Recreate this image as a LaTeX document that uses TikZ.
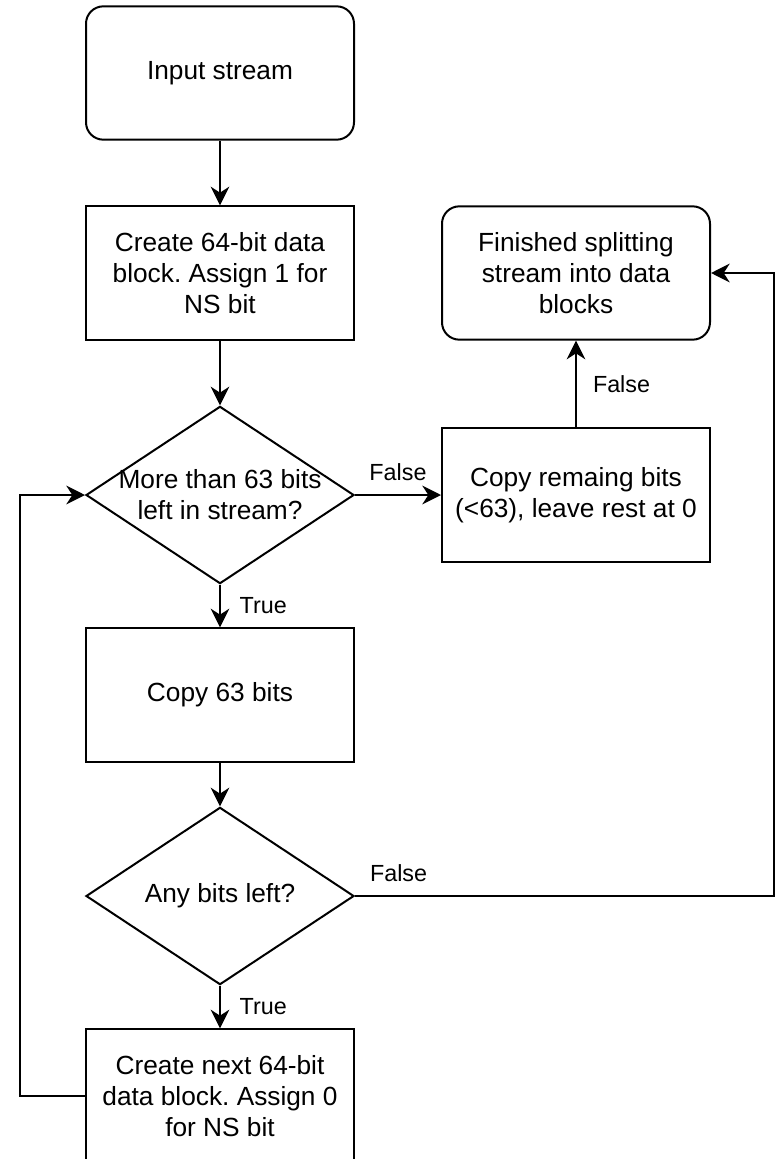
\documentclass[tikz,border=0pt]{standalone}
\usepackage{fontspec}
\setmainfont{Liberation Sans}
\usepackage{tikz}
\usetikzlibrary{positioning,shapes.geometric,arrows.meta}
\frenchspacing

\begin{document}
\begin{tikzpicture}[x=0.75pt, y=-0.75pt, line width=1.5pt,
        >={Stealth[length=14pt,width=14pt,inset=4.5pt]},
        every node/.style={font=\fontsize{19.7}{23.4}\selectfont},
        terminal/.style={draw, rounded corners=13pt, minimum width=201pt, minimum height=100pt, inner sep=0pt, align=center},
        process/.style={draw, minimum width=201pt, minimum height=100pt, inner sep=0pt, align=center},
        decision/.style={draw, diamond, minimum width=201pt, minimum height=133pt, inner sep=0pt},
        branch/.style={font=\fontsize{17.5}{21}\selectfont, inner sep=2pt}]
        \useasboundingbox (0,0) rectangle (775,1159);

        \node[terminal] (input) at (220,73) {Input stream};
        \node[process] (create) at (220,273) {Create 64-bit data\\block. Assign 1 for\\NS bit};
        \node[decision, label={[align=center]center:{More than 63 bits\\left in stream?}}] (more) at (220,495) {};
        \node[process] (copy) at (220,695) {Copy 63 bits};
        \node[decision, label={center:{Any bits left?}}] (anyleft) at (220,896) {};
        \node[process] (next) at (220,1096) {Create next 64-bit\\data block. Assign 0\\for NS bit};
        \node[process] (remain) at (576,495) {Copy remaing bits\\(<63), leave rest at 0};
        \node[terminal] (done) at (576,273) {Finished splitting\\stream into data\\blocks};

        \coordinate (loopL) at (19.5,1096);
        \coordinate (loopR) at (774,896);

        \draw[->] (input) -- (create);
        \draw[->] (create) -- (more);
        \draw[->] (more) -- node[branch, right=12pt] {True} (copy);
        \draw[->] (copy) -- (anyleft);
        \draw[->] (anyleft) -- node[branch, right=12pt] {True} (next);
        \draw[->] (more.east) -- node[branch, above=8pt] {False} (remain.west);
        \draw[->] (remain) -- node[branch, right=10pt] {False} (done);
        \draw[->] (next.west) -- (loopL) |- (more.west);
        \draw[->] (anyleft.east) -- node[branch, above=8pt, pos=0.104] {False} (loopR) |- (done.east);

    \end{tikzpicture}
\end{document}
